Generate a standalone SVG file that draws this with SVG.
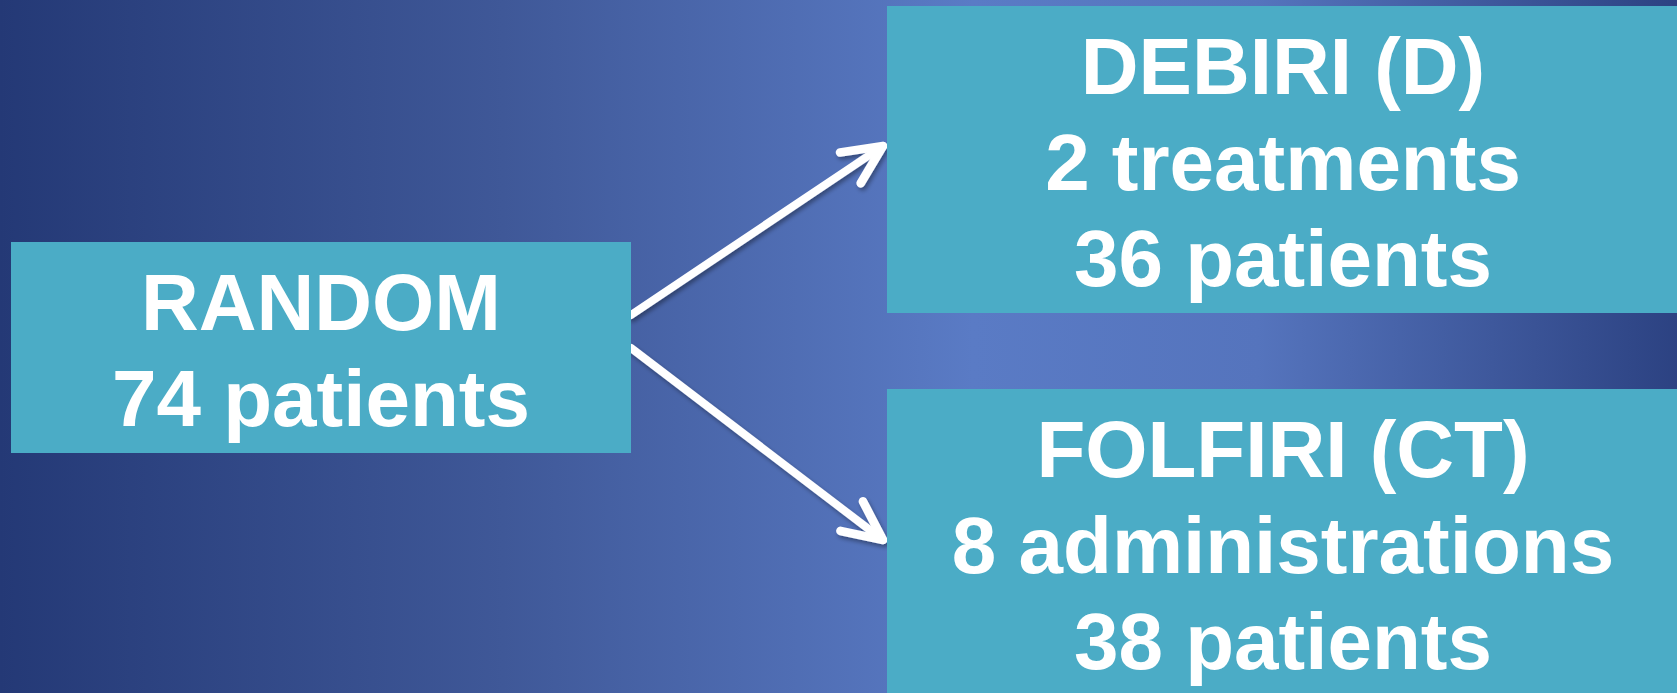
<svg xmlns="http://www.w3.org/2000/svg" width="1677" height="693" viewBox="0 0 1677 693">
  <style>
    .box { fill: #4bacc6; }
    .lbl { font-family: "Liberation Sans", Arial, sans-serif; font-weight: bold; font-size: 80px; fill: #ffffff; text-anchor: middle; }
    .arrow { fill: none; stroke: #ffffff; stroke-width: 8; stroke-linecap: round; stroke-linejoin: round; }
  </style>
  <defs>
    <linearGradient id="bg" x1="0" y1="0" x2="1" y2="0">
      <stop offset="0" stop-color="#243976"/>
      <stop offset="0.3" stop-color="#3f5898"/>
      <stop offset="0.58" stop-color="#5a7bc5"/>
      <stop offset="0.75" stop-color="#5574bd"/>
      <stop offset="1" stop-color="#2c4282"/>
    </linearGradient>
    <filter id="shadow" x="-10%" y="-10%" width="130%" height="130%">
      <feDropShadow dx="2" dy="3" stdDeviation="2" flood-color="#000000" flood-opacity="0.35"/>
    </filter>
    <marker id="head" markerUnits="userSpaceOnUse" orient="auto" markerWidth="60" markerHeight="60" refX="0" refY="0" viewBox="-45 -25 55 50" overflow="visible">
      <path d="M -36 -17 L 0 0 L -36 17" fill="none" stroke="#ffffff" stroke-width="8" stroke-linecap="round" stroke-linejoin="round"/>
    </marker>
  </defs>
  <rect x="0" y="0" width="1677" height="693" fill="url(#bg)"/>

  <g id="connectors" filter="url(#shadow)">
    <path class="arrow" d="M 631 315 L 883 146" marker-end="url(#head)"/>
    <path class="arrow" d="M 631 348 L 883 540" marker-end="url(#head)"/>
  </g>

  <g id="node-random">
    <rect class="box" x="11" y="242" width="620" height="211"/>
    <text class="lbl" x="321" y="330">RANDOM</text>
    <text class="lbl" x="321" y="426">74 patients</text>
  </g>

  <g id="node-debiri">
    <rect class="box" x="887" y="6" width="790" height="307"/>
    <text class="lbl" x="1283" y="94">DEBIRI (D)</text>
    <text class="lbl" x="1283" y="190">2 treatments</text>
    <text class="lbl" x="1283" y="286">36 patients</text>
  </g>

  <g id="node-folfiri">
    <rect class="box" x="887" y="389" width="790" height="304"/>
    <text class="lbl" x="1283" y="477">FOLFIRI (CT)</text>
    <text class="lbl" x="1283" y="573">8 administrations</text>
    <text class="lbl" x="1283" y="669">38 patients</text>
  </g>
</svg>
